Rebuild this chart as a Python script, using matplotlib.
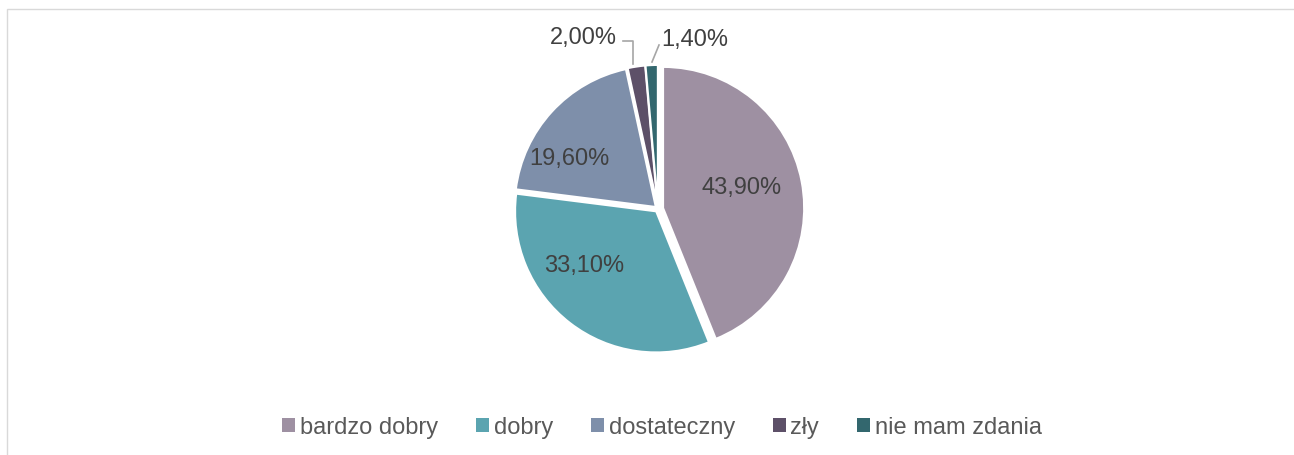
import matplotlib.pyplot as plt
from matplotlib.patches import Rectangle, Patch
import numpy as np

plt.rcParams['font.family'] = ['Liberation Sans', 'DejaVu Sans']

# data
categories = ['bardzo dobry', 'dobry', 'dostateczny', 'zły', 'nie mam zdania']
values = [43.9, 33.1, 19.6, 2.0, 1.4]
pct_labels = ['43,90%', '33,10%', '19,60%', '2,00%', '1,40%']

colors = ['#9E90A2', '#5BA4B0', '#7E8FAA', '#5D5068', '#33676E']

W, H = 1294, 456
fig = plt.figure(figsize=(W / 100, H / 100), dpi=100)
fig.patch.set_facecolor('white')

# chart area border (top/left visible)
fig.patches.append(Rectangle((7 / W, -0.1), 1.2, 1 - 10 / H + 0.1,
                             transform=fig.transFigure, fill=False,
                             edgecolor='#D9D9D9', linewidth=1))

# pie axes, centre ~(658, 209) px, radius ~146 px
cx, cy, r = 658, 210, 147
ax = fig.add_axes([(cx - r) / W, (H - cy - r) / H, 2 * r / W, 2 * r / H])

wedges, _ = ax.pie(values, colors=colors, startangle=90, counterclock=False,
                   radius=0.96, explode=[0.035, 0.02, 0.02, 0.02, 0.02],
                   wedgeprops=dict(edgecolor='white', linewidth=1.5))
ax.set_xlim(-1.0, 1.0)
ax.set_ylim(-1.0, 1.0)
ax.set_aspect('equal')
ax.axis('off')

fs = 17
# label placement (angle in deg, radius) for the inner labels
txt_col = '#404040'
inner_pos = [(15, 0.59), (-143, 0.63), (150, 0.70)]
for (ang, rr), lab in zip(inner_pos, pct_labels[:3]):
    a = np.deg2rad(ang)
    ax.text(rr * np.cos(a), rr * np.sin(a), lab, ha='center', va='center',
            fontsize=fs, color=txt_col)

# outer labels with leader lines
def px(x, y):
    return (x - cx) / r, (cy - y) / r

lc = '#A6A6A6'
p1, p2, p3 = px(633, 65), px(633, 42), px(623, 42)
ax.plot([p1[0], p2[0], p3[0]], [p1[1], p2[1], p3[1]], color=lc, lw=1.2,
        clip_on=False)
ax.text(*px(617, 38), pct_labels[3], ha='right', va='center',
        fontsize=fs, color=txt_col)

q1, q2 = px(652, 63), px(659, 46)
ax.plot([q1[0], q2[0]], [q1[1], q2[1]], color=lc, lw=1.2, clip_on=False)
ax.text(*px(661, 40), pct_labels[4], ha='left', va='center',
        fontsize=fs, color=txt_col)

handles = [Patch(facecolor=c, edgecolor='none', label=l)
           for c, l in zip(colors, categories)]
leg = fig.legend(handles=handles, loc='center', bbox_to_anchor=(662 / W, 1 - 428 / H),
                 ncol=5, frameon=False, fontsize=fs, handlelength=0.55,
                 handleheight=0.55, handletextpad=0.2, columnspacing=1.6)
for t in leg.get_texts():
    t.set_color('#595959')

fig.savefig('out.png', dpi=100, facecolor='white')
